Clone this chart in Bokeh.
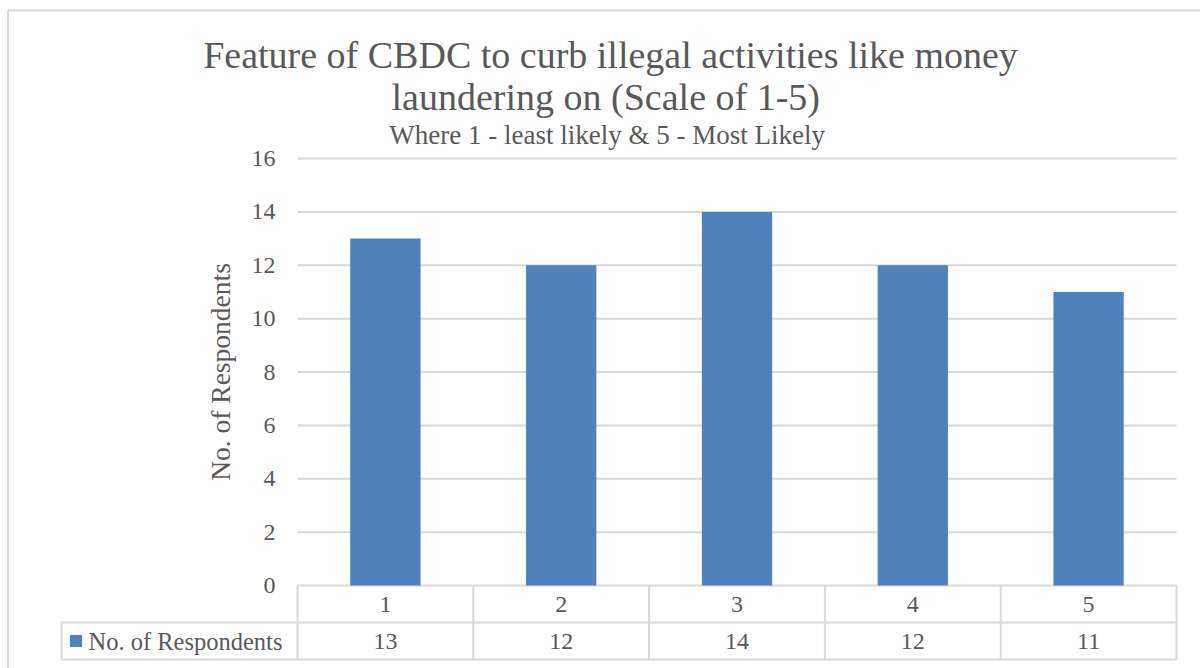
from bokeh.plotting import figure
from bokeh.models import Range1d, FixedTicker
from bokeh.embed import file_html
from bokeh.resources import INLINE
from bokeh.core.properties import value

# ---- data ----
categories = ["1", "2", "3", "4", "5"]
respondents = [13, 12, 14, 12, 11]
series_name = "No. of Respondents"
y_ticks = [0, 2, 4, 6, 8, 10, 12, 14, 16]
title_lines = ["Feature of CBDC to curb illegal activities like money",
               "laundering on (Scale of  1-5)"]
subtitle = "Where 1 - least likely  & 5 - Most Likely"
y_label = "No. of Respondents"

# ---- style ----
FONT = "Liberation Serif"
TXT = "#595959"
GRID = "#D9D9D9"
BAR = "#4F81BD"
W, H = 1200, 668

xs = list(range(1, len(categories) + 1))
x_lo, x_hi = 0.5, len(categories) + 0.5

# layout scale: category axis 297..1176 px, value axis 0 at 585 px, 16 at 158 px
X0_PX, Y0_PX = 297, 585
PX_X = (1176 - X0_PX) / len(categories)
PX_Y = (Y0_PX - 158) / 16


def lx(px):
    return x_lo + (px - X0_PX) / PX_X


def ly(py):
    return (Y0_PX - py) / PX_Y


p = figure(width=W, height=H,
           x_range=Range1d(lx(0), lx(W)), y_range=Range1d(ly(H), ly(0)),
           output_backend="svg", toolbar_location=None, x_axis_location=None,
           min_border_left=0, min_border_right=0, min_border_top=0,
           min_border_bottom=0)
p.title.visible = False
p.outline_line_color = None
p.grid.visible = False

# chart border (left and top edges visible)
p.segment(x0=[lx(7.5), lx(7.5)], y0=[ly(10), ly(10)], x1=[lx(7.5), lx(W)],
          y1=[ly(H), ly(10)], line_color=GRID, line_width=2)

# gridlines over the plot area
p.segment(x0=[x_lo] * len(y_ticks), x1=[x_hi] * len(y_ticks), y0=y_ticks, y1=y_ticks,
          line_color=GRID, line_width=2)

# bars
p.vbar(x=xs, top=respondents, bottom=0, width=0.4, color=BAR, line_color=None)

# value axis
ya = p.yaxis[0]
ya.fixed_location = x_lo
ya.bounds = (y_ticks[0], y_ticks[-1])
ya.ticker = FixedTicker(ticks=y_ticks)
ya.axis_line_color = None
ya.major_tick_line_color = None
ya.minor_tick_line_color = None
ya.major_label_standoff = 16
ya.major_label_text_font = FONT
ya.major_label_text_font_size = "24px"
ya.major_label_text_color = TXT
ya.axis_label = y_label
ya.axis_label_text_font = FONT
ya.axis_label_text_font_size = "27.5px"
ya.axis_label_text_font_style = "normal"
ya.axis_label_text_color = TXT
ya.axis_label_standoff = 13

# titles
p.text(x=[lx(610)] * 2, y=[ly(54), ly(96)], text=title_lines,
       text_font=value(FONT), text_font_size="38px", text_color=TXT,
       text_align="center", text_baseline="middle")
p.text(x=[lx(610)], y=[ly(134)], text=[subtitle],
       text_font=value(FONT), text_font_size="27px", text_color=TXT,
       text_align="center", text_baseline="middle")

# ---- data table ----
left = lx(61)
r1, r2 = ly(622), ly(659)
edges = [x - 0.5 for x in xs] + [xs[-1] + 0.5]
p.segment(x0=[left, left], y0=[r1, r2], x1=[x_hi, x_hi], y1=[r1, r2],
          line_color=GRID, line_width=2)
p.segment(x0=edges + [left], y0=[r2] * len(edges) + [r2],
          x1=edges + [left], y1=[0] * len(edges) + [r1],
          line_color=GRID, line_width=2)

p.text(x=xs, y=[r1 / 2] * len(xs), text=categories, text_font=value(FONT),
       text_font_size="24px", text_color=TXT, text_align="center",
       text_baseline="middle")
p.text(x=xs, y=[(r1 + r2) / 2] * len(xs), text=[str(v) for v in respondents],
       text_font=value(FONT), text_font_size="24px", text_color=TXT,
       text_align="center", text_baseline="middle")
p.scatter(x=[lx(75.5)], y=[(r1 + r2) / 2], marker="square", size=12,
          color=BAR, line_color=None)
p.text(x=[lx(88)], y=[(r1 + r2) / 2], text=[series_name],
       text_font=value(FONT), text_font_size="24.5px", text_color=TXT,
       text_align="left", text_baseline="middle")

open("out.html", "w").write(file_html(p, INLINE))
